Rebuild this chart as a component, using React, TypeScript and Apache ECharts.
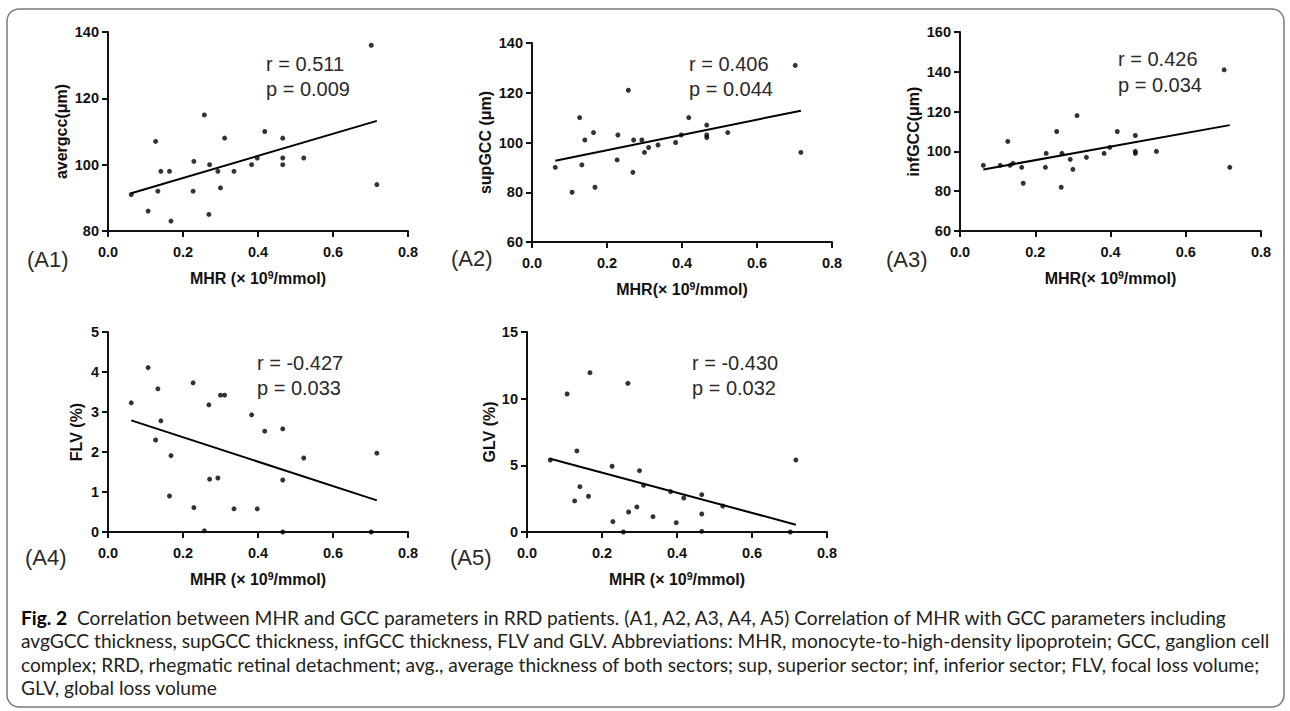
import React, { useEffect, useRef } from 'react';
import * as echarts from 'echarts';

// ---------- data ----------
const mhr = [0.062, 0.107, 0.127, 0.133, 0.141, 0.164, 0.168, 0.227, 0.229, 0.257, 0.269, 0.271, 0.293, 0.300, 0.311, 0.336, 0.383, 0.398, 0.418, 0.466, 0.466, 0.466, 0.522, 0.702, 0.717];
const avgGCC = [91, 86, 107, 92, 98, 98, 83, 92, 101, 115, 85, 100, 98, 93, 108, 98, 100, 102, 110, 108, 102, 100, 102, 136, 94];
const supGCC = [90, 80, 110, 91, 101, 104, 82, 93, 103, 121, 88, 101, 101, 96, 98, 99, 100, 103, 110, 107, 103, 102, 104, 131, 96];
const infGCC = [93, 93, 105, 93, 94, 92, 84, 92, 99, 110, 82, 99, 96, 91, 118, 97, 99, 102, 110, 108, 100, 99, 100, 141, 92];
const flv = [3.23, 4.11, 2.30, 3.58, 2.78, 0.90, 1.91, 3.73, 0.61, 0.03, 3.18, 1.32, 1.35, 3.42, 3.42, 0.58, 2.93, 0.58, 2.52, 2.58, 1.30, 0.00, 1.85, 0.00, 1.97];
const glv = [5.40, 10.35, 2.33, 6.08, 3.40, 2.68, 11.95, 4.93, 0.78, 0.00, 11.15, 1.50, 1.88, 4.60, 3.50, 1.15, 3.03, 0.70, 2.55, 2.80, 1.35, 0.05, 1.95, 0.00, 5.40];

const fitX = [0.062, 0.717];
const fitAvg = [91.4, 113.2];
const fitSup = [92.7, 112.8];
const fitInf = [90.9, 113.2];
const fitFlv = [2.79, 0.79];
const fitGlv = [5.5, 0.55];

const rValues = ['0.511', '0.406', '0.426', '-0.427', '-0.430'];
const pValues = ['0.009', '0.044', '0.034', '0.033', '0.032'];
const panelLabels = ['(A1)', '(A2)', '(A3)', '(A4)', '(A5)'];
const yNames = ['avergcc(\u03bcm)', 'supGCC (\u03bcm)', 'infGCC(\u03bcm)', 'FLV (%)', 'GLV (%)'];
const xNames = ['MHR (\u00d7 10{sup|9}/mmol)', 'MHR(\u00d7 10{sup|9}/mmol)', 'MHR(\u00d7 10{sup|9}/mmol)', 'MHR (\u00d7 10{sup|9}/mmol)', 'MHR (\u00d7 10{sup|9}/mmol)'];
const yMin = [80, 60, 60, 0, 0];
const yMax = [140, 140, 160, 5, 15];
const yInterval = [20, 20, 20, 1, 5];
const xMin = 0;
const xMax = 0.8;
const xInterval = 0.2;

const captionLines = [
  'Correlation between MHR and GCC parameters in RRD patients. (A1, A2, A3, A4, A5) Correlation of MHR with GCC parameters including',
  'avgGCC thickness, supGCC thickness, infGCC thickness, FLV and GLV. Abbreviations: MHR, monocyte-to-high-density lipoprotein; GCC, ganglion cell',
  'complex; RRD, rhegmatic retinal detachment; avg., average thickness of both sectors; sup, superior sector; inf, inferior sector; FLV, focal loss volume;',
  'GLV, global loss volume',
];
const captionHead = 'Fig. 2';

const seriesY = [avgGCC, supGCC, infGCC, flv, glv];
const fits = [fitAvg, fitSup, fitInf, fitFlv, fitGlv];

// ---------- layout ----------
const AX_FONT = "'Liberation Sans', Arial, Helvetica, sans-serif";
const CAP_FONT = "Lato, Roboto, sans-serif";
const grids = [
  { left: 108, top: 32, width: 300, height: 199 },
  { left: 532, top: 43, width: 300, height: 199 },
  { left: 960, top: 32, width: 301, height: 199 },
  { left: 108, top: 332, width: 300, height: 200 },
  { left: 527, top: 332, width: 300, height: 200 },
];
const annot = [
  { x: 266, y: 64, dy: 25 },
  { x: 689, y: 64, dy: 25 },
  { x: 1118, y: 59, dy: 26 },
  { x: 257, y: 363, dy: 25 },
  { x: 692, y: 363, dy: 25 },
];
const labelPos = [
  { x: 27, y: 259 },
  { x: 451, y: 258 },
  { x: 886, y: 259 },
  { x: 25, y: 557 },
  { x: 450, y: 557 },
];
const yNameGap = [39, 39, 39, 24, 25];
const capLeft = 21;
const capEnd = 1262;

function measure(text: string, font: string) {
  const c = document.createElement('canvas').getContext('2d');
  if (!c) return 0;
  c.font = font;
  return c.measureText(text).width;
}

export default function App() {
  const ref = useRef<HTMLDivElement>(null);

  useEffect(() => {
    if (!ref.current) return;
    const chart = echarts.init(ref.current, undefined, { renderer: 'svg' });

    const base = 16;
    const w3 = measure(captionLines[2], `${base}px ${CAP_FONT}`);
    const capSize = w3 > 0 ? (base * (capEnd - capLeft)) / w3 : 15;

    const nameStyle = {
      fontFamily: AX_FONT,
      fontWeight: 'bold',
      fontSize: 16,
      color: '#111',
      rich: {
        sup: { fontFamily: AX_FONT, fontWeight: 'bold', fontSize: 10.5, color: '#111', padding: [0, 0, 8, 0] },
      },
    };

    const xAxes = grids.map((_, i) => ({
      gridIndex: i,
      type: 'value',
      min: xMin,
      max: xMax,
      interval: xInterval,
      name: xNames[i],
      nameLocation: 'middle',
      nameGap: 38,
      nameTextStyle: nameStyle,
      axisLine: { show: true, onZero: false, lineStyle: { color: '#111', width: 2 } },
      axisTick: { show: true, length: 6, lineStyle: { color: '#111', width: 2 } },
      axisLabel: {
        formatter: (v: number) => v.toFixed(1),
        fontFamily: AX_FONT,
        fontWeight: 'bold',
        fontSize: 14.5,
        color: '#111',
        margin: 13,
      },
      splitLine: { show: false },
    }));

    const yAxes = grids.map((_, i) => ({
      gridIndex: i,
      type: 'value',
      min: yMin[i],
      max: yMax[i],
      interval: yInterval[i],
      name: yNames[i],
      nameLocation: 'middle',
      nameRotate: 90,
      nameGap: yNameGap[i],
      nameTextStyle: { fontFamily: AX_FONT, fontWeight: 'bold', fontSize: 16, color: '#111' },
      axisLine: { show: true, onZero: false, lineStyle: { color: '#111', width: 2 } },
      axisTick: { show: true, length: 6, lineStyle: { color: '#111', width: 2 } },
      axisLabel: { fontFamily: AX_FONT, fontWeight: 'bold', fontSize: 14.5, color: '#111', margin: 9 },
      splitLine: { show: false },
    }));

    const series: any[] = [];
    grids.forEach((_, i) => {
      series.push({
        type: 'scatter',
        xAxisIndex: i,
        yAxisIndex: i,
        data: mhr.map((x, j) => [x, seriesY[i][j]]),
        symbolSize: 5,
        itemStyle: { color: '#000' },
        clip: false,
        silent: true,
      });
      series.push({
        type: 'line',
        xAxisIndex: i,
        yAxisIndex: i,
        data: fitX.map((x, j) => [x, fits[i][j]]),
        showSymbol: false,
        symbol: 'none',
        lineStyle: { color: '#000', width: 2 },
        silent: true,
      });
    });

    const graphics: any[] = [
      {
        type: 'rect',
        silent: true,
        shape: { x: 7, y: 9, width: 1277, height: 698, r: 12 },
        style: { fill: 'none', stroke: '#7a7a7a', lineWidth: 1.5 },
      },
    ];
    annot.forEach((a, i) => {
      graphics.push({
        type: 'text', silent: true, x: a.x, y: a.y,
        style: { text: `r = ${rValues[i]}`, fontFamily: AX_FONT, fontSize: 20, fill: '#2a2a2a', align: 'left', verticalAlign: 'middle', textAlign: 'left', textVerticalAlign: 'middle' },
      });
      graphics.push({
        type: 'text', silent: true, x: a.x, y: a.y + a.dy,
        style: { text: `p = ${pValues[i]}`, fontFamily: AX_FONT, fontSize: 20, fill: '#2a2a2a', align: 'left', verticalAlign: 'middle', textAlign: 'left', textVerticalAlign: 'middle' },
      });
    });
    labelPos.forEach((p, i) => {
      graphics.push({
        type: 'text', silent: true, x: p.x, y: p.y,
        style: { text: panelLabels[i], fontFamily: AX_FONT, fontSize: 22, fill: '#2a2a2a', align: 'left', verticalAlign: 'middle', textAlign: 'left', textVerticalAlign: 'middle' },
      });
    });
    const capY = [617, 640, 664, 687];
    captionLines.forEach((line, i) => {
      const text = i === 0 ? `{b|${captionHead}}  ${line}` : line;
      graphics.push({
        type: 'text', silent: true, x: capLeft, y: capY[i],
        style: {
          text,
          fontFamily: CAP_FONT,
          fontSize: capSize,
          fill: '#231f20',
          align: 'left', verticalAlign: 'middle', textAlign: 'left', textVerticalAlign: 'middle',
          rich: {
            b: { fontFamily: CAP_FONT, fontSize: capSize, fontWeight: 'bold', fill: '#000', color: '#000' },
          },
        },
      });
    });

    chart.setOption({
      animation: false,
      backgroundColor: '#ffffff',
      grid: grids.map((g) => ({ ...g, containLabel: false })),
      xAxis: xAxes,
      yAxis: yAxes,
      series,
      graphic: { elements: graphics },
    });

    return () => chart.dispose();
  }, []);

  return (
    <div
      ref={ref}
      style={{ position: 'fixed', left: 0, top: 0, width: 1290, height: 711, background: '#fff' }}
    />
  );
}
